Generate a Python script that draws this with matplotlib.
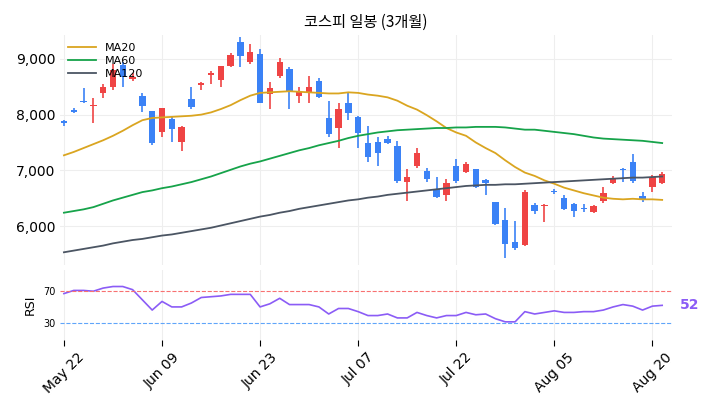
import matplotlib
matplotlib.use("Agg")
import matplotlib.pyplot as plt
import numpy as np

plt.rcParams['font.family'] = ['DejaVu Sans', 'Noto Sans CJK KR']

opens = [7880,8080,8250,8150,8390,8500,8890,8640,8335,8060,7690,7920,7510,8280,8530,8710,8620,8880,9300,8950,9090,8370,8690,8820,8340,8410,8600,7940,7760,8210,
         7960,7490,7510,7560,7440,6790,7080,6990,6660,6560,7080,6970,7020,6830,6430,6110,5710,5660,6380,6360,6630,6500,6400,6330,6250,6450,6770,7030,7150,6540,6700,6770]
closes = [7850,8050,8220,8180,8500,8800,8680,8670,8160,7490,8110,7740,7780,8140,8560,8740,8870,9070,9050,9120,8210,8480,8950,8410,8410,8500,8320,7650,8100,8030,
          7670,7240,7310,7490,6810,6880,7310,6840,6520,6770,6810,7110,6700,6770,6040,5680,5600,6610,6270,6380,6610,6300,6270,6310,6360,6590,6840,7010,6810,6480,6880,6930]
highs = [7900,8120,8480,8300,8550,8900,8950,8750,8380,8060,8120,7950,7800,8500,8580,8780,8880,9100,9400,9260,9170,8580,9020,8850,8500,8700,8650,8250,8200,8400,
         7980,7800,7600,7610,7520,7020,7400,7050,6880,6850,7200,7150,7020,6850,6430,6330,6100,6650,6420,6400,6660,6550,6420,6400,6380,6700,6900,7040,7300,6620,6920,6970]
lows = [7800,8030,8200,7850,8300,8450,8500,8600,8050,7450,7600,7500,7350,8100,8450,8550,8500,8850,8850,8900,8200,8100,8650,8100,8200,8200,8300,7600,7400,7900,
        7400,7150,7080,7480,6780,6450,7050,6800,6500,6450,6780,6950,6680,6550,6020,5420,5570,5640,6220,6080,6580,6280,6170,6260,6230,6420,6750,6800,6780,6440,6620,6750]
ma20 = [7270,7330,7400,7470,7540,7620,7710,7810,7900,7940,7950,7960,7970,7980,8000,8040,8100,8170,8260,8340,8390,8400,8410,8420,8410,8400,8390,8380,8380,8400,
        8390,8360,8340,8310,8250,8160,8090,7990,7880,7760,7680,7620,7500,7400,7310,7180,7060,6960,6900,6820,6760,6690,6640,6590,6550,6510,6490,6480,6490,6480,6480,6470]
ma60 = [6240,6270,6300,6340,6400,6460,6510,6560,6610,6640,6680,6710,6750,6790,6840,6890,6950,7010,7070,7120,7160,7210,7260,7310,7360,7400,7450,7490,7530,7580,
        7620,7650,7680,7700,7720,7730,7740,7750,7760,7760,7770,7770,7780,7780,7780,7770,7750,7730,7730,7710,7690,7670,7650,7620,7590,7570,7560,7550,7540,7530,7510,7490]
ma120 = [5530,5560,5590,5620,5650,5690,5720,5750,5770,5800,5830,5850,5880,5910,5940,5970,6010,6050,6090,6130,6170,6200,6240,6270,6310,6340,6370,6400,6430,6460,
         6480,6510,6530,6560,6580,6600,6620,6640,6660,6680,6700,6720,6730,6740,6740,6750,6750,6760,6770,6780,6790,6800,6810,6820,6830,6840,6850,6860,6870,6870,6880,6890]
rsi = [67,71,71,70,74,76,76,72,59,46,57,50,50,55,62,63,64,66,66,66,50,54,61,53,53,53,50,41,48,48,
       44,39,39,41,36,36,43,39,36,39,39,43,40,41,35,31,31,44,41,43,45,43,43,44,44,46,50,53,51,46,51,52]
tick_idx = [0,10,20,30,40,50,60]
tick_labels = ['May 22','Jun 09','Jun 23','Jul 07','Jul 22','Aug 05','Aug 20']

UP = '#ef4444'; DOWN = '#3b82f6'
fig = plt.figure(figsize=(7.01, 4.11), dpi=100)
ax = fig.add_axes([0.0856, 0.355, 0.873, 0.56])
ax2 = fig.add_axes([0.0856, 0.173, 0.873, 0.17], sharex=ax)

x = np.arange(len(opens))
for i in x:
    o, c, h, l = opens[i], closes[i], highs[i], lows[i]
    col = UP if c >= o else DOWN
    ax.vlines(i, l, h, color=col, lw=1.2, zorder=2)
    ax.bar(i, max(abs(c - o), 15), bottom=min(o, c), width=0.65, color=col, zorder=3)
ax.plot(x, ma20, color='#daa520', lw=1.3, label='MA20', zorder=4)
ax.plot(x, ma60, color='#16a34a', lw=1.3, label='MA60', zorder=4)
ax.plot(x, ma120, color='#4b5563', lw=1.3, label='MA120', zorder=4)
ax.set_ylim(5300, 9430)
ax.set_xlim(-0.4, 62)
ax.set_yticks([6000, 7000, 8000, 9000])
ax.yaxis.set_major_formatter(matplotlib.ticker.FuncFormatter(lambda v, p: f'{v:,.0f}'))
ax.grid(True, color='#eeeeee', lw=0.8)
ax.legend(loc='upper left', frameon=False, fontsize=8, handlelength=2.5, borderaxespad=0.3, labelspacing=0.3)
ax.set_title('코스피 일봉 (3개월)', fontsize=11, family=['Noto Sans CJK KR', 'DejaVu Sans'])
ax.tick_params(labelbottom=False, length=0)
for s in ax.spines.values():
    s.set_visible(False)

ax2.plot(x, rsi, color='#8b5cf6', lw=1.2)
ax2.axhline(70, color='#f87171', ls='--', lw=0.8)
ax2.axhline(30, color='#60a5fa', ls='--', lw=0.8)
ax2.set_ylim(8, 97)
ax2.set_yticks([30, 70])
ax2.tick_params(axis='y', labelsize=7, length=0)
ax2.tick_params(axis='x', length=4)
ax2.set_ylabel('RSI', fontsize=9)
ax2.set_xticks(tick_idx)
ax2.set_xticklabels(tick_labels, rotation=45, fontsize=10)
ax2.grid(True, axis='x', color='#eeeeee', lw=0.8)
ax2.text(62.8, rsi[-1], f'{rsi[-1]}', color='#8b5cf6', fontsize=10, fontweight='bold', va='center')
for s in ax2.spines.values():
    s.set_visible(False)

fig.savefig('out.png', dpi=100)
